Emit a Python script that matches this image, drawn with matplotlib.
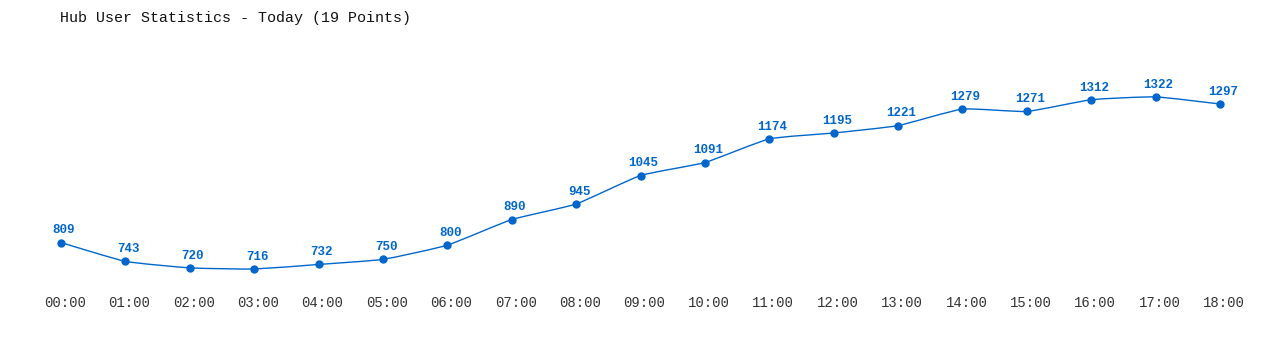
import numpy as np
import matplotlib
matplotlib.use("Agg")
import matplotlib.pyplot as plt
import matplotlib.transforms as mtransforms
from matplotlib.path import Path
from matplotlib.patches import PathPatch

# hourly hub user counts
hours = ["00:00", "01:00", "02:00", "03:00", "04:00", "05:00", "06:00",
         "07:00", "08:00", "09:00", "10:00", "11:00", "12:00", "13:00",
         "14:00", "15:00", "16:00", "17:00", "18:00"]
users = [809, 743, 720, 716, 732, 750, 800, 890, 945, 1045, 1091,
         1174, 1195, 1221, 1279, 1271, 1312, 1322, 1297]

line_color = "#0066cc"
mono = ["Liberation Mono", "DejaVu Sans Mono"]

x = np.arange(len(users), dtype=float)
y = np.array(users, dtype=float)

fig = plt.figure(figsize=(12.8, 3.5), dpi=100)
ax = fig.add_axes([61 / 1280, 60 / 350, (1220 - 61) / 1280, 230 / 350])
ax.set_xlim(0, len(users) - 1)
ax.set_ylim(642, 1452)

# smooth line through the points (cardinal spline, bezier segments)
tension = 0.08
verts = [(x[0], y[0])]
codes = [Path.MOVETO]
for i in range(len(x) - 1):
    p0 = (x[max(i - 1, 0)], y[max(i - 1, 0)])
    p1 = (x[i], y[i])
    p2 = (x[i + 1], y[i + 1])
    p3 = (x[min(i + 2, len(x) - 1)], y[min(i + 2, len(x) - 1)])
    c1 = (p1[0] + (p2[0] - p0[0]) * tension, p1[1] + (p2[1] - p0[1]) * tension)
    c2 = (p2[0] - (p3[0] - p1[0]) * tension, p2[1] - (p3[1] - p1[1]) * tension)
    verts += [c1, c2, p2]
    codes += [Path.CURVE4] * 3
ax.add_patch(PathPatch(Path(verts, codes), facecolor="none",
                       edgecolor=line_color, lw=1.0, clip_on=False))

ax.plot(x, y, "o", color=line_color, ms=5, clip_on=False, zorder=3)

for xi, yi in zip(x, users):
    ax.annotate(str(yi), (xi, yi), xytext=(2.2, 4.5), textcoords="offset points",
                ha="center", va="bottom", color=line_color, fontsize=9,
                fontweight="bold", family=mono)

ax.set_xticks(x)
ax.set_xticklabels(hours, family=mono, fontsize=10, color="#333333")
ax.tick_params(axis="x", length=0, pad=4.5)
shift = mtransforms.ScaledTranslation(4 / 100, 0, fig.dpi_scale_trans)
for lbl in ax.get_xticklabels():
    lbl.set_transform(lbl.get_transform() + shift)
ax.set_yticks([])
for s in ax.spines.values():
    s.set_visible(False)

fig.text(60 / 1280, 1 - 18 / 350, "Hub User Statistics - Today (19 Points)",
         family=mono, fontsize=10.8, color="#111111", va="center", ha="left")

fig.savefig("out.png", dpi=100)
